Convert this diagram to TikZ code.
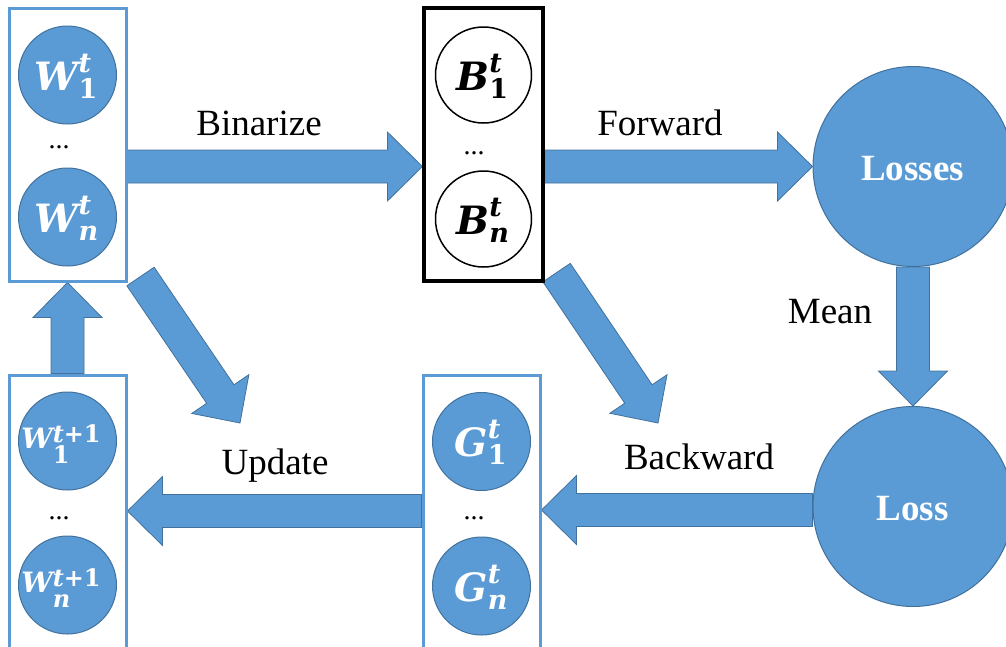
\documentclass[tikz,border=0pt]{standalone}
\usepackage{fontspec}
\setmainfont{Liberation Serif}
\newfontfamily\symfont{DejaVu Serif}
\usetikzlibrary{calc}

\definecolor{fillblue}{HTML}{5B9BD5}
\definecolor{edgeblue}{HTML}{41719C}

% bold-italic symbol with a stacked super- and subscript
% #1 main size, #2 script size, #3 raise, #4 lower, #5 letter, #6 sup, #7 sub
\newcommand\symlab[7]{%
  \mbox{\fontsize{#1}{#1}\selectfont\symfont\bfseries\itshape #5}%
  \mbox{\fontsize{#2}{#2}\selectfont\symfont\bfseries
    \rlap{\raisebox{-#4}{#7}}\raisebox{#3}{#6}}}
\newcommand\labA[3]{\symlab{39pt}{27pt}{18pt}{8pt}{#1}{#2}{#3}}
\newcommand\labB[3]{\symlab{28pt}{24pt}{6pt}{15pt}{#1}{#2}{#3}}

% thick block arrow from one point to another
\newcommand\fatarrow[2]{%
  \path (#1) coordinate (fa-s) (#2) coordinate (fa-e);
  \pgfpointdiff{\pgfpointanchor{fa-s}{center}}{\pgfpointanchor{fa-e}{center}}%
  \pgfgetlastxy\fadx\fady
  \pgfmathsetmacro\faang{atan2(\fady,\fadx)}%
  \pgfmathsetmacro\falen{veclen(\fadx,\fady)}%
  \pgfmathsetmacro\fab{\falen-35}%
  \begin{scope}[shift={(fa-s)}, rotate=\faang]
    \draw[blockarrow] (0pt,-16.5pt) -- (\fab pt,-16.5pt) -- (\fab pt,-34.5pt)
      -- (\falen pt,0pt) -- (\fab pt,34.5pt) -- (\fab pt,16.5pt) -- (0pt,16.5pt) -- cycle;
  \end{scope}}

\begin{document}
\begin{tikzpicture}[x=1pt,y=-1pt,
  blockarrow/.style={fill=fillblue, draw=edgeblue, line width=0.8pt, line join=miter},
  boxframe/.style={draw=fillblue, line width=3pt, inner sep=0pt},
  blackframe/.style={draw=black, line width=3.2pt, inner sep=0pt},
  disc/.style={circle, fill=fillblue, draw=edgeblue, line width=1pt, minimum size=98pt, inner sep=0pt},
  wdisc/.style={circle, fill=white, draw=black, line width=1.5pt, minimum size=96pt, inner sep=0pt},
  bigdisc/.style={circle, fill=fillblue, draw=edgeblue, line width=1pt, minimum size=200pt, inner sep=0pt},
  arrowlabel/.style={font=\fontsize{37pt}{37pt}\selectfont, anchor=base, inner sep=0pt},
  dotlabel/.style={font=\fontsize{28pt}{28pt}\selectfont, anchor=base, inner sep=0pt},
  symlabel/.style={anchor=base, inner sep=0pt, text=white},
  bigtext/.style={font=\fontsize{37pt}{37pt}\selectfont\bfseries, text=white, anchor=base, inner sep=0pt}]

\useasboundingbox (0,0) rectangle (1006,646);
\clip (0,0) rectangle (1006,646);

% column frames
\node[boxframe, minimum width=117pt, minimum height=273pt] (wtop) at (67.5,144.5) {};
\node[blackframe, minimum width=119pt, minimum height=273pt] (btop) at (483.5,144.5) {};
\node[boxframe, minimum width=117pt, minimum height=300pt] (gbot) at (481.5,525) {};
\node[boxframe, minimum width=117pt, minimum height=300pt] (wbot) at (67.5,525) {};

% loss circles
\node[bigdisc] (losses) at (913,166.5) {};
\node[bigdisc] (loss) at (913,506.5) {};

% arrow end points
\coordinate (bin-a) at ([yshift=-22pt]wtop.east);
\coordinate (bin-b) at ([yshift=-22pt]btop.west);
\coordinate (fwd-a) at ([yshift=-22pt]btop.east);
\coordinate (bwd-a) at ([yshift=-3.5pt]loss.west);
\coordinate (bwd-b) at (gbot.east |- bwd-a);
\coordinate (upd-a) at ([yshift=14pt]gbot.west);
\coordinate (upd-b) at ([yshift=14pt]wbot.east);
\coordinate (d1-a) at ($(wtop.south east)+(13,-6)$);
\coordinate (d1-b) at (240,423);
\coordinate (d2-a) at ($(btop.south east)+(12,-10)$);
\coordinate (d2-b) at (658,423);

% block arrows
\fatarrow{bin-a}{bin-b}
\fatarrow{fwd-a}{losses.west}
\fatarrow{losses.south}{loss.north}
\fatarrow{bwd-a}{bwd-b}
\fatarrow{upd-a}{upd-b}
\fatarrow{wbot.north}{wtop.south}
\fatarrow{d1-a}{d1-b}
\fatarrow{d2-a}{d2-b}

% redraw frames above the arrow ends
\node[boxframe, minimum width=117pt, minimum height=273pt] at (wtop) {};
\node[blackframe, minimum width=119pt, minimum height=273pt] at (btop) {};
\node[boxframe, minimum width=117pt, minimum height=300pt] at (gbot) {};
\node[boxframe, minimum width=117pt, minimum height=300pt] at (wbot) {};

% weight, binary and gradient discs
\node[disc] (w1) at (67.5,75) {};
\node[disc] (wn) at (67.5,217) {};
\node[wdisc] (b1) at (483.5,75) {};
\node[wdisc] (bn) at (483.5,219) {};
\node[disc] (g1) at (481.5,441.5) {};
\node[disc] (gn) at (481.5,586) {};
\node[disc] (u1) at (67.5,441) {};
\node[disc] (un) at (67.5,585) {};

\node[symlabel] (w1-l) at (63,90) {\labA{W}{\itshape t}{1}};
\node[symlabel] (wn-l) at (63,232) {\labA{W}{\itshape t}{\itshape n}};
\node[symlabel, text=black] (b1-l) at (479,90) {\labA{B}{\itshape t}{1}};
\node[symlabel, text=black] (bn-l) at (479,234) {\labA{B}{\itshape t}{\itshape n}};
\node[symlabel] (g1-l) at (477.5,456.5) {\labA{G}{\itshape t}{1}};
\node[symlabel] (gn-l) at (477.5,601) {\labA{G}{\itshape t}{\itshape n}};
\node[symlabel] (u1-l) at (61,448) {\labB{W}{{\itshape t}+1}{1}};
\node[symlabel] (un-l) at (61,592) {\labB{W}{{\itshape t}+1}{\itshape n}};

% ellipses between discs
\node[dotlabel] (w-dots) at (59,148) {...};
\node[dotlabel] (b-dots) at (474,154) {...};
\node[dotlabel] (g-dots) at (474,519) {...};
\node[dotlabel] (u-dots) at (59,519) {...};

% loss texts
\node[bigtext] (losses-t) at (912.5,180) {Losses};
\node[bigtext] (loss-t) at (912.5,520) {Loss};

% arrow captions
\node[arrowlabel] (t-bin) at (259,135) {Binarize};
\node[arrowlabel] (t-fwd) at (660,135) {Forward};
\node[arrowlabel] (t-mean) at (830,323) {Mean};
\node[arrowlabel] (t-upd) at (275,474) {Update};
\node[arrowlabel] (t-bwd) at (699,469) {Backward};
\end{tikzpicture}
\end{document}
